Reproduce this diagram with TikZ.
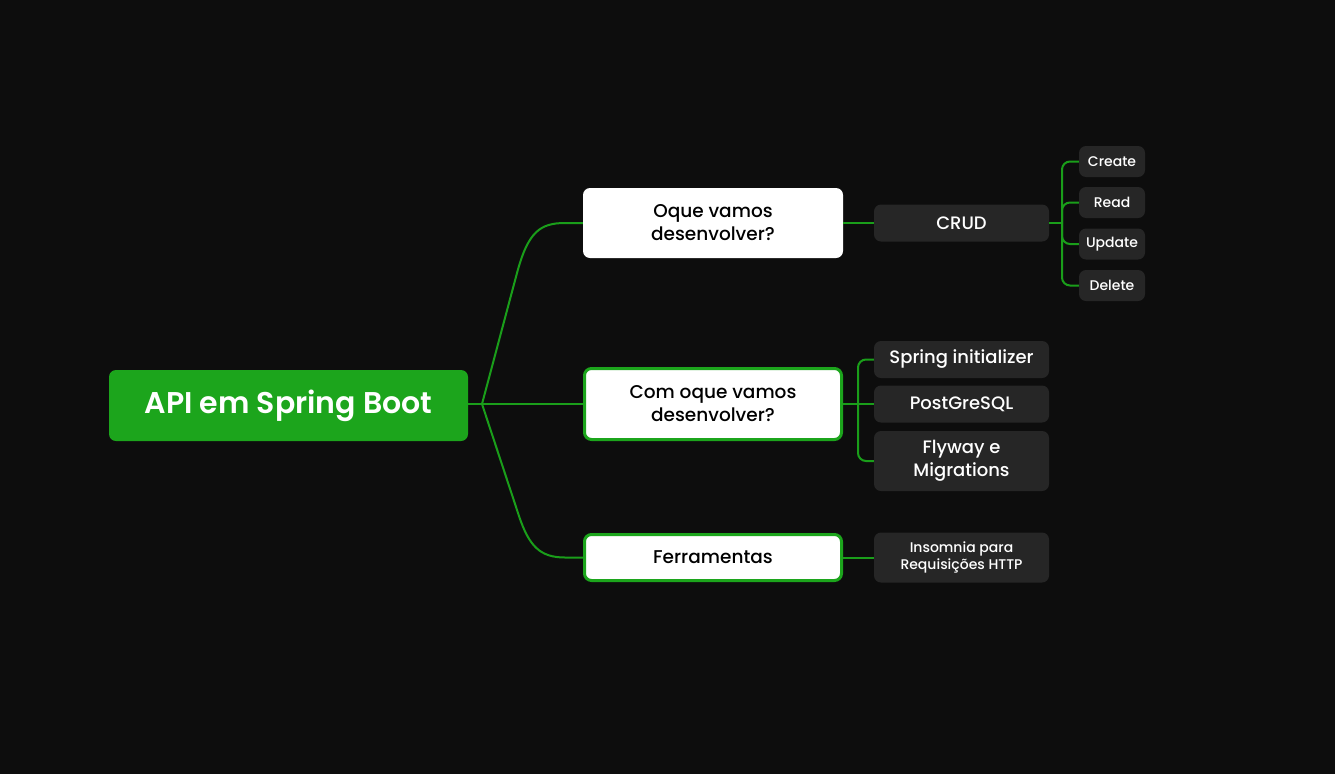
\documentclass[tikz,border=0pt]{standalone}
\usepackage{fontspec}
\setmainfont{Poppins}[UprightFont=* Medium, BoldFont=* SemiBold]
\definecolor{bg}{HTML}{0D0D0D}
\definecolor{mgreen}{HTML}{1CA51C}
\definecolor{lgreen}{HTML}{1A9E1A}
\definecolor{dnode}{HTML}{262626}
\begin{document}
\begin{tikzpicture}[x=1pt,y=-1pt,
  rootbox/.style={fill=mgreen, rounded corners=7, minimum width=359, minimum height=71, text=white, font=\fontsize{30}{34}\selectfont\bfseries},
  lvlone/.style={fill=white, rounded corners=7, text=black, align=center, font=\fontsize{18.5}{23}\selectfont, inner sep=0},
  lvlonegreen/.style={lvlone, draw=mgreen, line width=3},
  darkbox/.style={fill=dnode, rounded corners=7, text=white, align=center, inner sep=0},
  bigtxt/.style={font=\fontsize{18}{23.5}\selectfont},
  leaftxt/.style={minimum width=66, minimum height=31, font=\fontsize{14}{16}\selectfont},
  conn/.style={draw=lgreen, line width=2},
]
\fill[bg] (0,0) rectangle (1335,774);
\useasboundingbox (0,0) rectangle (1335,774);

\node[rootbox] (root) at (288.5,405.5) {API em Spring Boot};

\node[lvlone, minimum width=260, minimum height=70] (n1) at (713,223) {Oque vamos\\desenvolver?};
\node[lvlonegreen, minimum width=257, minimum height=71] (n2) at (713,404) {Com oque vamos\\desenvolver?};
\node[lvlonegreen, minimum width=257, minimum height=46] (n3) at (713,557.5) {Ferramentas};

\node[darkbox, bigtxt, minimum width=175, minimum height=37] (crud) at (961.5,223) {CRUD};
\node[darkbox, leaftxt] (create) at (1112,161.5) {Create};
\node[darkbox, leaftxt] (read) at (1112,202.5) {Read};
\node[darkbox, leaftxt] (update) at (1112,244) {Update};
\node[darkbox, leaftxt] (delete) at (1112,285.5) {Delete};

\node[darkbox, bigtxt, minimum width=175, minimum height=37] (spring) at (961.5,359.5) {Spring initializer};
\node[darkbox, bigtxt, minimum width=175, minimum height=37] (pg) at (961.5,404) {PostGreSQL};
\node[darkbox, bigtxt, minimum width=175, minimum height=60] (fly) at (961.5,461) {Flyway e\\Migrations};

\node[darkbox, minimum width=175, minimum height=50, font=\fontsize{14}{17}\selectfont] (inso) at (961.5,557.5) {Insomnia para\\Requisições HTTP};

\coordinate (b0) at (482,404);
\coordinate (c0) at (1062,223);
\coordinate (c1) at (858,404);

\draw[conn] (b0 -| root.east) -- (b0);
\draw[conn] (b0) -- (517,273) .. controls (528,232) and (540,223) .. (565,223) -- (n1.west);
\draw[conn] (b0) -- (n2.west);
\draw[conn] (b0) -- (519,516) .. controls (529,546) and (540,557.5) .. (565,557.5) -- (n3.west);

\draw[conn] (n1.east) -- (crud.west);
\draw[conn] (crud.east) -- (c0);
\draw[conn, rounded corners=8] (c0) |- (create.west);
\draw[conn, rounded corners=8] (c0) |- (read.west);
\draw[conn, rounded corners=8] (c0) |- (update.west);
\draw[conn, rounded corners=8] (c0) |- (delete.west);

\draw[conn] (n2.east) -- (c1);
\draw[conn, rounded corners=8] (c1) |- (spring.west);
\draw[conn] (c1) -- (pg.west);
\draw[conn, rounded corners=8] (c1) |- (fly.west);

\draw[conn] (n3.east) -- (inso.west);
\end{tikzpicture}
\end{document}
